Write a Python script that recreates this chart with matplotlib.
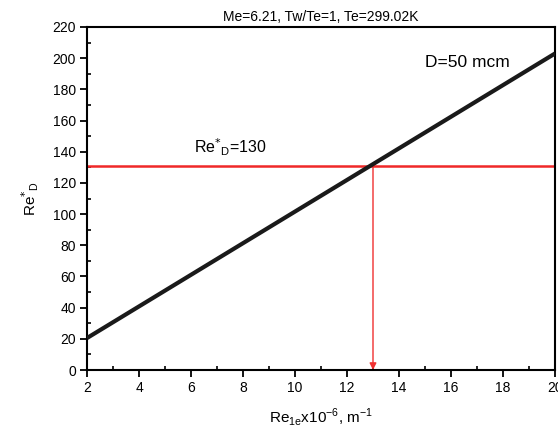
import matplotlib
matplotlib.use("Agg")
import matplotlib.pyplot as plt
from matplotlib.ticker import MultipleLocator

plt.rcParams['font.family'] = ['Liberation Sans', 'DejaVu Sans']

# Data
x_line = [2, 20]
y_line = [20.5, 203]
re_d_level = 131
x_cross = 13
xticks = [2, 4, 6, 8, 10, 12, 14, 16, 18, 20]
yticks = [0, 20, 40, 60, 80, 100, 120, 140, 160, 180, 200, 220]

fig = plt.figure(figsize=(5.58, 4.30), dpi=100)
ax = fig.add_axes([87/558, 60/430, 468/558, 343/430])

ax.plot(x_line, y_line, color='#1a1a1a', lw=3, solid_capstyle='butt', zorder=3)
ax.plot([2, 20], [re_d_level, re_d_level], color='#f02828', lw=1.8, zorder=2)
ax.annotate('', xy=(x_cross, 0), xytext=(x_cross, re_d_level),
            arrowprops=dict(arrowstyle='-|>', color='#f03030', lw=1.0,
                            mutation_scale=10, shrinkA=0, shrinkB=0), zorder=2)

ax.set_xlim(2, 20)
ax.set_ylim(0, 220)
ax.set_xticks(xticks)
ax.set_yticks(yticks)
ax.xaxis.set_minor_locator(MultipleLocator(1))
ax.yaxis.set_minor_locator(MultipleLocator(10))
ax.tick_params(which='major', direction='out', length=5, width=1.3, labelsize=10, pad=3)
ax.tick_params(which='minor', direction='in', length=3, width=1.2)
for s in ax.spines.values():
    s.set_linewidth(1.5)

ax.text(15.0, 197, 'D=50 mcm', fontsize=12.5, va='center', ha='left')
ax.text(6.1, 143, r'Re$^{*}$$_{\mathregular{D}}$=130', fontsize=11.5, va='center', ha='left')

ax.set_title('Me=6.21, Tw/Te=1, Te=299.02K', fontsize=10, pad=4)
ax.set_ylabel(r'Re$^{*}$$_{\mathregular{D}}$', fontsize=11, labelpad=8)
ax.set_xlabel(r'Re$_{\mathregular{1e}}$x10$^{\mathregular{-6}}$, m$^{\mathregular{-1}}$', fontsize=11, labelpad=8)

fig.savefig('out.png', dpi=100)
